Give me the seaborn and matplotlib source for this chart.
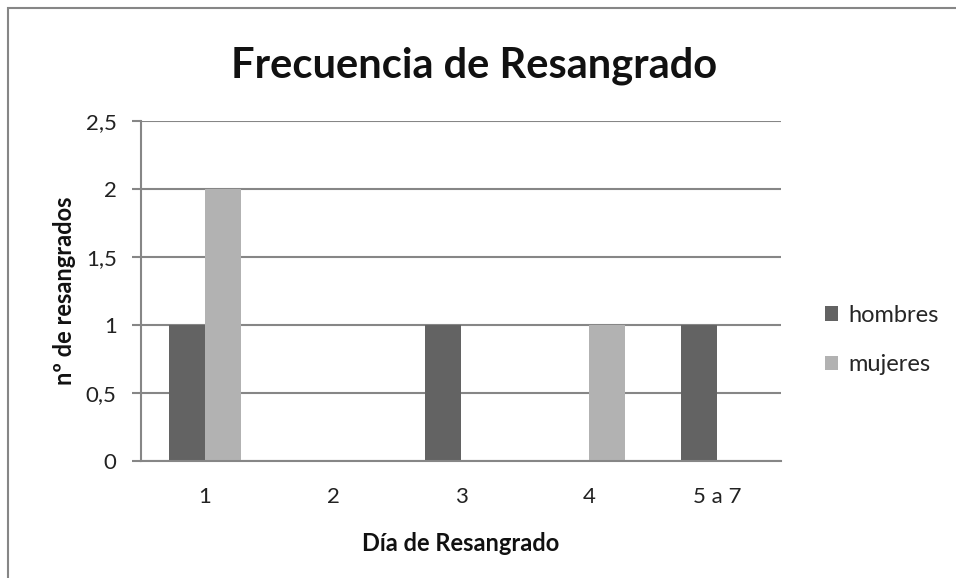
import matplotlib
matplotlib.use("Agg")
import matplotlib.pyplot as plt
import seaborn as sns
import pandas as pd
from matplotlib.patches import Rectangle

categories = ["1", "2", "3", "4", "5 a 7"]
hombres = [1, 0, 1, 0, 1]
mujeres = [2, 0, 0, 1, 0]
series_names = ["hombres", "mujeres"]
colors = ["#636363", "#b2b2b2"]
yticks = [0, 0.5, 1, 1.5, 2, 2.5]
ytick_labels = ["0", "0,5", "1", "1,5", "2", "2,5"]

rows = []
for c, h, m in zip(categories, hombres, mujeres):
    rows.append({"dia": c, "serie": "hombres", "valor": h})
    rows.append({"dia": c, "serie": "mujeres", "valor": m})
df = pd.DataFrame(rows)

sns.set_theme(style="white")
plt.rcParams["font.family"] = ["Lato", "DejaVu Sans"]

fig = plt.figure(figsize=(9.56, 5.78), dpi=100)
ax = fig.add_axes([141/956, 1-461/578, 640/956, 340/578])

sns.barplot(data=df, x="dia", y="valor", hue="serie", order=categories,
            hue_order=series_names, palette=colors, width=0.5625, gap=0,
            linewidth=0, errorbar=None, saturation=1, ax=ax)

ax.set_ylim(0, 2.5)
ax.set_xlim(-0.5, 4.5)
ax.set_yticks(yticks)
ax.set_yticklabels(ytick_labels, fontsize=16, color="#222222")
ax.tick_params(axis="x", labelsize=16, colors="#222222", length=0, pad=19)
ax.tick_params(axis="y", length=6.5, width=1.5, color="#868686", pad=11, left=True)
ax.grid(axis="y", color="#868686", linewidth=1.5)
ax.set_axisbelow(True)
for s in ["top", "right"]:
    ax.spines[s].set_visible(False)
for s in ["left", "bottom"]:
    ax.spines[s].set_color("#868686")
    ax.spines[s].set_linewidth(1.5)

ax.set_xlabel("Día de Resangrado", fontsize=17, fontweight="bold", labelpad=18, color="#111111")
ax.set_ylabel("nº de resangrados", fontsize=17, fontweight="bold", labelpad=7, color="#111111")

fig.text(474/956, 1-66/578, "Frecuencia de Resangrado", fontsize=30, fontweight="bold",
         ha="center", va="center", color="#111111")

handles, labels = ax.get_legend_handles_labels()
ax.legend(handles, labels, loc="center left", bbox_to_anchor=(804/956, 1-340/578),
          bbox_transform=fig.transFigure, frameon=False, fontsize=17,
          handlelength=0.55, handleheight=0.55, handletextpad=0.42, labelspacing=1.2)

fig.patches.append(Rectangle((8/956, -0.1), 1.2, 1 - 8/578 + 0.1, transform=fig.transFigure,
                             fill=False, edgecolor="#868686", linewidth=1.5))

fig.savefig("out.png", dpi=100)
